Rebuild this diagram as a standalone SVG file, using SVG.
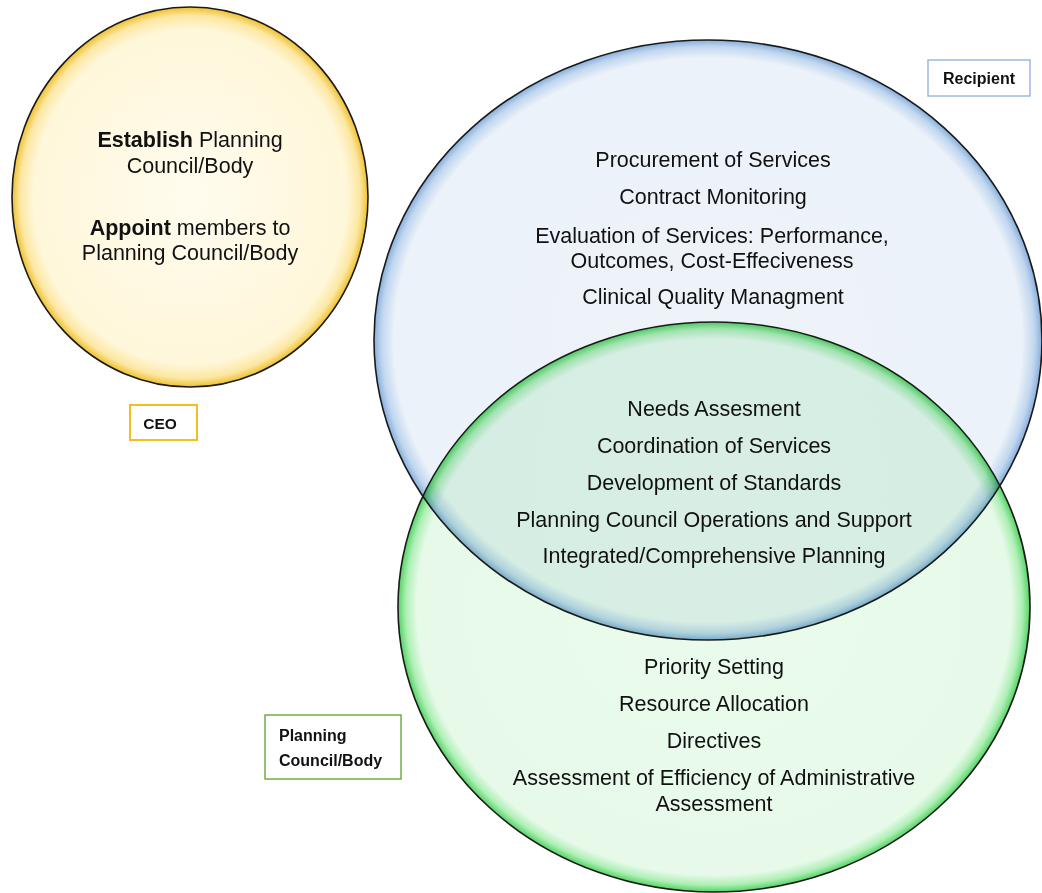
<svg xmlns="http://www.w3.org/2000/svg" width="1042" height="893" viewBox="0 0 1042 893">
<defs>
<radialGradient id="gY" cx="0.5" cy="0.5" r="0.5">
<stop offset="0" stop-color="#fffcef"/>
<stop offset="0.88" stop-color="#fff7da"/>
<stop offset="0.955" stop-color="#fce7a2"/>
<stop offset="1" stop-color="#efc02e"/>
</radialGradient>
<radialGradient id="gB" cx="0.5" cy="0.5" r="0.5">
<stop offset="0" stop-color="#eef3f9"/>
<stop offset="0.94" stop-color="#ecf2f9"/>
<stop offset="0.978" stop-color="#c0d6ef"/>
<stop offset="1" stop-color="#86aedb"/>
</radialGradient>
<radialGradient id="gG" cx="0.5" cy="0.5" r="0.5">
<stop offset="0" stop-color="#eafbeb"/>
<stop offset="0.94" stop-color="#e7fae9"/>
<stop offset="0.975" stop-color="#aeefb5"/>
<stop offset="1" stop-color="#52d462"/>
</radialGradient>
<style>
.t{font-family:"Liberation Sans",Arial,sans-serif;font-size:21.5px;fill:#111;text-anchor:middle}
.b{font-weight:bold}
.lbl{font-family:"Liberation Sans",Arial,sans-serif;font-size:16px;font-weight:bold;fill:#111}
.ol{fill:none;stroke:#1a1a1a;stroke-width:1.6}
</style>
</defs>
<rect width="1042" height="893" fill="#ffffff"/>
<g id="ceo-circle">
<ellipse cx="190" cy="197" rx="178" ry="190" fill="url(#gY)"/>
<ellipse class="ol" cx="190" cy="197" rx="178" ry="190"/>
<text class="t" x="190" y="147"><tspan class="b">Establish</tspan> Planning</text>
<text class="t" x="190" y="173">Council/Body</text>
<text class="t" x="190" y="235"><tspan class="b">Appoint</tspan> members to</text>
<text class="t" x="190" y="260">Planning Council/Body</text>
</g>
<g id="recipient-circle">
<ellipse cx="708" cy="340" rx="334" ry="300" fill="url(#gB)"/>
</g>
<g id="planning-circle">
<ellipse cx="714" cy="607" rx="316" ry="285" fill="url(#gG)" style="mix-blend-mode:multiply"/>
</g>
<g id="outlines">
<ellipse class="ol" cx="708" cy="340" rx="334" ry="300"/>
<ellipse class="ol" cx="714" cy="607" rx="316" ry="285"/>
</g>
<g id="recipient-text">
<text class="t" x="713" y="167">Procurement of Services</text>
<text class="t" x="713" y="204">Contract Monitoring</text>
<text class="t" x="712" y="243">Evaluation of Services: Performance,</text>
<text class="t" x="712" y="268">Outcomes, Cost-Effeciveness</text>
<text class="t" x="713" y="304">Clinical Quality Managment</text>
</g>
<g id="shared-text">
<text class="t" x="714" y="416">Needs Assesment</text>
<text class="t" x="714" y="453">Coordination of Services</text>
<text class="t" x="714" y="490">Development of Standards</text>
<text class="t" x="714" y="527">Planning Council Operations and Support</text>
<text class="t" x="714" y="563">Integrated/Comprehensive Planning</text>
</g>
<g id="planning-text">
<text class="t" x="714" y="674">Priority Setting</text>
<text class="t" x="714" y="711">Resource Allocation</text>
<text class="t" x="714" y="748">Directives</text>
<text class="t" x="714" y="785">Assessment of Efficiency of Administrative</text>
<text class="t" x="714" y="811">Assessment</text>
</g>
<g id="label-recipient">
<rect x="928" y="60" width="102" height="36" fill="#fff" stroke="#9db8e0" stroke-width="1.5"/>
<text class="lbl" x="979" y="84" text-anchor="middle">Recipient</text>
</g>
<g id="label-ceo">
<rect x="130" y="405" width="67" height="35" fill="#fff" stroke="#f0c020" stroke-width="2"/>
<text class="lbl" x="160" y="429" text-anchor="middle" style="font-size:15.5px">CEO</text>
</g>
<g id="label-planning">
<rect x="265" y="715" width="136" height="64" fill="#fff" stroke="#70ad47" stroke-width="1.5"/>
<text class="lbl" x="279" y="741">Planning</text>
<text class="lbl" x="279" y="766">Council/Body</text>
</g>
</svg>
